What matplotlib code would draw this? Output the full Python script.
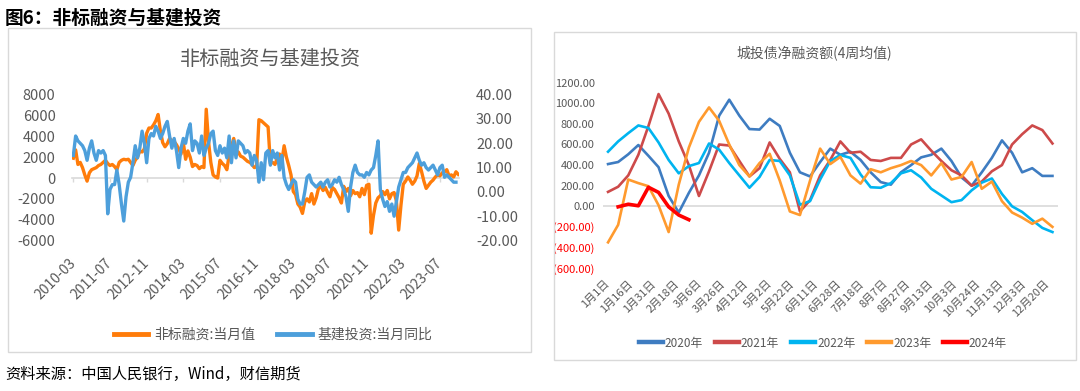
import numpy as np
import pandas as pd
import matplotlib
matplotlib.use("Agg")
import matplotlib.pyplot as plt
from matplotlib.patches import Rectangle

plt.rcParams['font.family'] = ['Noto Sans CJK SC', 'DejaVu Sans']
plt.rcParams['axes.unicode_minus'] = False

# ---- left panel: monthly, 2010-03 .. 2024-03
months = pd.period_range("2010-03", periods=169, freq="M")
nonstd = [1900, 2700, 1300, 1500, 1000, 300, -300, 500, 800, 900, 1000, 1200,
          1300, 1500, 1700, 1400, 1200, 1300, 1100, 800, 1500, 1700, 1800, 1750,
          1800, 1500, 1200, 1700, 2000, 2600, 2500, 2800, 4300, 4800, 4800, 5100,
          5500, 6100, 4500, 3400, 3000, 3300, 3800, 3600, 3500, 3200, 2800, 2300,
          3400, 1800, 2600, 2000, 1100, 1300, 1200, 900, 1100, 1000, 6600, 3500,
          1500, 300, 100, 0, 1700, 1400, 1200, 800, 2200, 3000, 3800, 2600,
          2500, 2100, 2000, 1800, 1600, 1500, 1300, 1000, 1100, 5600, 5500, 5300,
          5100, 4900, 1400, 1500, 1300, 1900, 2300, 1600, 3100, 2000, 1200, 300,
          -1300, -1600, -2500, -2800, -3400, -2300, -2000, -2300, -1500, -2500, -1900, -1000,
          -800, -1200, -900, -1400, -1800, -900, -1100, -1500, -1900, -2400, -800, -1300,
          -1000, -1700, -1200, -1500, -1400, -1800, -1000, -1600, -700, -600, -5300, -3600,
          -2400, -1900, -1700, -1300, -1600, -1200, -2000, -1500, -1400, -2200, -5000, -2600,
          -600, -300, 100, -200, -600, -300, 200, 1400, 600, -300, -1000, -700,
          -400, -200, 100, 300, 200, 500, 600, 800, 200, 300, 100, 600, 350]
infra_yoy = [15, 23, 21, 20, 19, 17, 13, 18, 21, 16, 13, 17,
             16, 17, 15, -9, 1, 3, 3, 9, 3, -5, -12, -2,
             4, 6, 12, 19, 14, 18, 25, 20, 12, 22, 24, 23,
             27, 25, 22, 24, 27, 29, 23, 18, 22, 17, 10, 18,
             22, 20, 25, 28, 17, 21, 20, 16, 23, 15, 18, 20,
             24, 25, 17, 15, 19, 16, 18, 14, 23, 12, 21, 14,
             21, 20, 19, 16, 17, 16, 11, 15, 13, 4, 12, 5,
             16, 17, 11, 17, 14, 16, 9, 15, 6, 3, 1, 3,
             5, 4, -3, -5, -5, 0, 6, 7, 4, 3, 2, 3,
             4, 2, 4, 5, 2, 3, 5, 4, 6, 3, 1, -2,
             -8, 2, 8, 11, 8, 7, 7, 6, 8, 7, 9, 10,
             15, 21, 1, -3, -6, -4, -8, -5, -10, -4, 2, 5,
             8, 8, 10, 11, 12, 14, 16, 13, 11, 12, 10, 9,
             10, 11, 9, 7, 10, 11, 6, 7, 6, 5, 4, 4]

# ---- right panel: 4-week average net financing of LGFV bonds
week_labels = ["1月1日", "1月16日", "1月31日", "2月18日", "3月6日", "3月26日", "4月12日",
               "5月2日", "5月22日", "6月11日", "6月28日", "7月18日", "8月7日", "8月27日",
               "9月13日", "10月3日", "10月24日", "11月13日", "12月3日", "12月20日"]
y2020 = [410, 430, 505, 595, 490, 380, 100, -60, 130, 300, 520, 880, 1035, 880, 750,
         745, 850, 780, 520, 330, 290, 430, 560, 500, 530, 450, 330, 235, 210, 330,
         400, 475, 500, 560, 440, 280, 200, 330, 470, 640, 520, 330, 370, 295, 295]
y2021 = [140, 190, 300, 500, 780, 1090, 900, 630, 400, 100, 340, 600, 590, 440, 290,
         370, 620, 460, 330, -50, 60, 300, 450, 630, 520, 530, 450, 440, 470, 470,
         600, 650, 540, 440, 350, 300, 200, 240, 340, 400, 600, 700, 785, 740, 610]
y2022 = [530, 630, 710, 785, 760, 620, 450, 320, 390, 420, 610, 550, 420, 300, 180,
         285, 450, 440, 300, 15, 50, 260, 440, 498, 470, 310, 185, 180, 225, 320,
         350, 280, 170, 105, 40, 60, 155, 230, 270, 120, 0, -55, -135, -210, -250]
y2023 = [-350, -180, 260, 225, 195, 10, -250, 210, 570, 820, 960, 830, 600, 400, 290,
         420, 510, 250, -50, -85, 250, 560, 410, 480, 300, 220, 360, 330, 370, 400,
         440, 400, 300, 420, 260, 285, 430, 170, 240, 50, -60, -110, -170, -120, -200]
y2024 = [np.nan, -5, 20, 5, 185, 135, -5, -85, -130]

GRAY = '#595959'
LIGHT = '#D9D9D9'
W, H = 1080, 391


def px(x0, y0, x1, y1):
    return [x0 / W, 1 - y1 / H, (x1 - x0) / W, (y1 - y0) / H]


fig = plt.figure(figsize=(10.8, 3.91), dpi=100)
fig.patch.set_facecolor('white')

# panel frames
for x0, y0, x1, y1 in [(8, 28, 531, 352), (554, 32, 1076, 360)]:
    fig.patches.append(Rectangle((x0 / W, 1 - y1 / H), (x1 - x0) / W, (y1 - y0) / H,
                                 transform=fig.transFigure, fill=False,
                                 edgecolor=LIGHT, lw=1))

fig.text(5 / W, 1 - 18 / H, "图6：非标融资与基建投资", fontsize=13.5, fontweight='bold',
         va='center', ha='left', color='black')
fig.text(5 / W, 1 - 374 / H, "资料来源：中国人民银行，Wind，财信期货", fontsize=11,
         style='italic', va='center', ha='left', color='black')

# ---------------- left chart
ax = fig.add_axes(px(72.2, 94.7, 459.4, 240.5))
ax2 = ax.twinx()
l1, = ax.plot(np.arange(len(nonstd)), nonstd, color='#FF7C0A', lw=2.4,
              label="非标融资:当月值")
l2, = ax2.plot(np.arange(len(infra_yoy)), infra_yoy, color='#4D9FDB', lw=2.4,
               label="基建投资:当月同比")
ax.set_xlim(-0.5, len(months) - 0.5)
ax.set_ylim(-6000, 8000)
ax.set_yticks(range(-6000, 8001, 2000))
ax2.set_ylim(-20, 40)
ax2.set_yticks(range(-20, 41, 10))
ax2.set_yticklabels([f"{v:.2f}" for v in range(-20, 41, 10)])
xt = np.arange(0, len(months), 16)
ax.set_xticks(xt, [str(months[i]) for i in xt], rotation=45, ha='right',
              rotation_mode='anchor', va='center')
for a in (ax, ax2):
    for s in a.spines.values():
        s.set_visible(False)
ax.tick_params(axis='x', length=0, pad=15, labelsize=10, labelcolor=GRAY)
ax.tick_params(axis='y', length=0, pad=12, labelsize=10.5, labelcolor=GRAY)
ax2.tick_params(axis='y', length=0, pad=12, labelsize=10.5, labelcolor=GRAY)
zero = ax.secondary_xaxis(6 / 14)
zero.set_xticks(xt)
zero.tick_params(length=3, width=1, color=LIGHT, labelbottom=False, labeltop=False)
for s in zero.spines.values():
    s.set_color(LIGHT)
    s.set_linewidth(1.2)

fig.text(270 / W, 1 - 59 / H, "非标融资与基建投资", fontsize=14.5, color=GRAY,
         ha='center', va='center', fontweight='light')
leg1 = fig.legend([l1, l2], [l1.get_label(), l2.get_label()], loc='center',
                  bbox_to_anchor=(273 / W, 1 - 335 / H), ncol=2, frameon=False,
                  fontsize=10, handlelength=2.5, handletextpad=0.4, columnspacing=1.6,
                  labelcolor=GRAY)
for h in leg1.legend_handles:
    h.set_linewidth(3.5)

# ---------------- right chart
ax3 = fig.add_axes(px(603, 82.7, 1057.5, 268.1))
series = [(y2020, '2020年', '#3E7CC1', 1.9), (y2021, '2021年', '#CD4A4A', 1.9),
          (y2022, '2022年', '#00B4F0', 1.9), (y2023, '2023年', '#FF9A2E', 1.9),
          (y2024, '2024年', '#FF0000', 2.6)]
for vals, name, c, lw in series:
    ax3.plot(np.arange(len(vals)), vals, color=c, lw=lw, label=name)
ax3.axhline(0, color=LIGHT, lw=1.2, zorder=0)
ax3.set_xlim(-0.5, len(y2020) - 0.5)
ax3.set_ylim(-600, 1200)
yt = list(range(-600, 1201, 200))
ax3.set_yticks(yt, [f"{v:.2f}" if v >= 0 else f"({-v:.2f})" for v in yt])
for v, t in zip(yt, ax3.get_yticklabels()):
    t.set_color('#FF0000' if v < 0 else GRAY)
ax3.set_xticks(np.linspace(0, 43.5, len(week_labels)), week_labels, rotation=45,
               ha='right', rotation_mode='anchor', va='center')
for s in ax3.spines.values():
    s.set_visible(False)
ax3.tick_params(axis='y', length=0, pad=6, labelsize=8)
ax3.tick_params(axis='x', length=0, pad=10, labelsize=8, labelcolor=GRAY)
fig.text(814 / W, 1 - 54 / H, "城投债净融资额(4周均值)", fontsize=10, color=GRAY,
         ha='center', va='center', fontweight='light')
leg2 = fig.legend(*ax3.get_legend_handles_labels(), loc='center',
                  bbox_to_anchor=(823 / W, 1 - 343 / H), ncol=5, frameon=False,
                  fontsize=8.5, handlelength=2.0, handletextpad=0.2, columnspacing=1.0,
                  labelcolor=GRAY)
for h in leg2.legend_handles:
    h.set_linewidth(3.2)

fig.savefig("out.png", dpi=100, facecolor='white')
